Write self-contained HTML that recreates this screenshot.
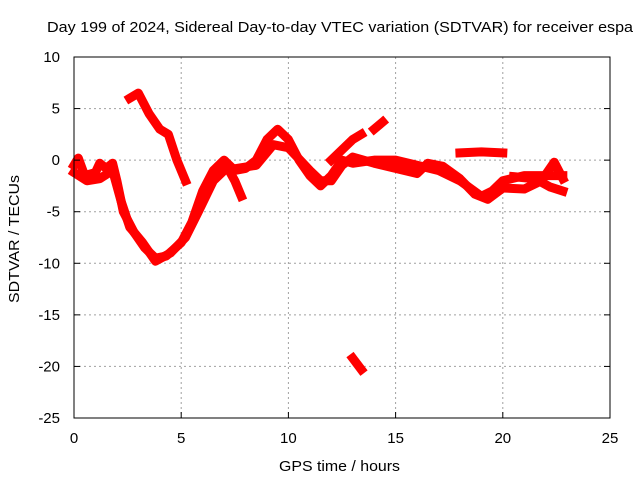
<!DOCTYPE html>
<html><head><meta charset="utf-8"><style>
body{margin:0;background:#fff}
svg{display:block;font-family:"Liberation Sans",sans-serif}
</style></head><body>
<svg id="c" width="640" height="480" viewBox="0 0 640 480">
<rect width="640" height="480" fill="#fff"/>
<g id="grid"></g>
<g id="series"></g>
<rect x="74" y="57" width="536" height="361" fill="none" stroke="#000" stroke-width="1"/>
<g id="ticks"></g>
<text x="47" y="32" font-size="15" textLength="586" lengthAdjust="spacingAndGlyphs">Day 199 of 2024, Sidereal Day-to-day VTEC variation (SDTVAR) for receiver espa</text>
<text x="279" y="471" font-size="15" textLength="121" lengthAdjust="spacingAndGlyphs">GPS time / hours</text>
<text transform="translate(19,303) rotate(-90)" font-size="15" textLength="128" lengthAdjust="spacingAndGlyphs">SDTVAR / TECUs</text>
</svg>
<script>
const xTicks=[0,5,10,15,20,25];
const yTicks=[10,5,0,-5,-10,-15,-20,-25];
const mainTrace=[[0,-0.5],[0.2,0.2],[0.5,-1.5],[1,-1.2],[1.2,-0.3],[1.5,-0.8],[1.8,-0.3],[2,-2],[2.3,-5],[2.8,-7],[3.3,-8.5],[3.8,-9.5],[4.3,-9.3],[5,-8],[5.5,-6],[6,-3],[6.5,-1],[7,0],[7.5,-1],[8,-0.8],[8.5,0],[9,2],[9.5,3],[10,2],[10.5,0],[11,-1.5],[11.5,-2.5],[12,-1.5],[12.5,0],[13,-0.3],[14,0],[15,0],[16,-0.5],[17,-1],[18,-2],[19,-3.5],[19.5,-3],[20,-2],[21,-1.5],[22,-1.5],[22.8,-1.5]];
const secondTrace=[[0,-1.2],[0.6,-2],[1.2,-1.8],[1.8,-1],[2.2,-4],[2.6,-6.5],[3.2,-8],[3.8,-9.8],[4.5,-9],[5.2,-7.5],[5.8,-5],[6.5,-2],[7,-1],[8.5,-0.5],[9.3,1.5],[10,1.2],[11,-1],[11.5,-2],[12,-2],[12.5,-0.5],[13,0.3],[14,-0.3],[15,-0.8],[16,-1.3],[16.5,-0.3],[17.2,-0.6],[18,-1.8],[18.7,-3.3],[19.3,-3.8],[20,-2.7],[21,-2.8],[21.8,-2],[22.4,-0.2],[22.8,-1.8]];
const thirdTrace=[[20.5,-1.6],[21.5,-1.8],[22.2,-2.6],[22.8,-3]];
const upperBranch=[[2.6,6],[3,6.5],[3.5,4.5],[4,3],[4.4,2.5],[4.8,0],[5.2,-2]];
const riseA=[[12,0],[13,2],[13.4,2.5]];
const riseB=[[14,3],[14.4,3.7]];
const flatSeg=[[18,0.7],[19,0.8],[20,0.7]];
const dipSeg=[[7.1,-0.5],[7.5,-2],[7.8,-3.5]];
const outlier=[[13,-19.2],[13.4,-20.3]];
const allSeries=[mainTrace,secondTrace,thirdTrace,upperBranch,riseA,riseB,flatSeg,dipSeg,outlier];
const NS="http://www.w3.org/2000/svg";
const X=v=>74+(v-0)*536/25;
const Y=v=>57+(10-v)*361/35;
function mk(t,a,p){const e=document.createElementNS(NS,t);for(const k in a)e.setAttribute(k,a[k]);p.appendChild(e);return e;}
const grid=document.getElementById('grid'),ticks=document.getElementById('ticks'),ser=document.getElementById('series');
xTicks.forEach(t=>{const x=X(t);
 if(t>0&&t<25){const l=mk('line',{x1:x,x2:x,y1:57,y2:418,stroke:'#a0a0a0','stroke-dasharray':'2,3'},grid);}
 const tk=mk('line',{x1:x,x2:x,y1:418,y2:412,stroke:'#000'},ticks);
 const tx=mk('text',{x:x,y:443,'font-size':15,'text-anchor':'middle'},ticks);tx.textContent=t;});
yTicks.forEach(t=>{const y=Y(t);
 if(t<10&&t>-25){const l=mk('line',{x1:74,x2:610,y1:y,y2:y,stroke:'#a0a0a0','stroke-dasharray':'2,3'},grid);}
 const tk=mk('line',{x1:74,x2:80,y1:y,y2:y,stroke:'#000'},ticks);
 const tk2=mk('line',{x1:604,x2:610,y1:y,y2:y,stroke:'#000'},ticks);
 const tx=mk('text',{x:60,y:y+5,'font-size':15,'text-anchor':'end'},ticks);tx.textContent=t;});
allSeries.forEach(s=>{
 const p=mk('polyline',{points:s.map(d=>X(d[0])+','+Y(d[1])).join(' '),fill:'none',stroke:'#ff0000','stroke-width':9,'stroke-linejoin':'round','stroke-linecap':'square'},ser);
 
 
});
</script>
</body></html>
